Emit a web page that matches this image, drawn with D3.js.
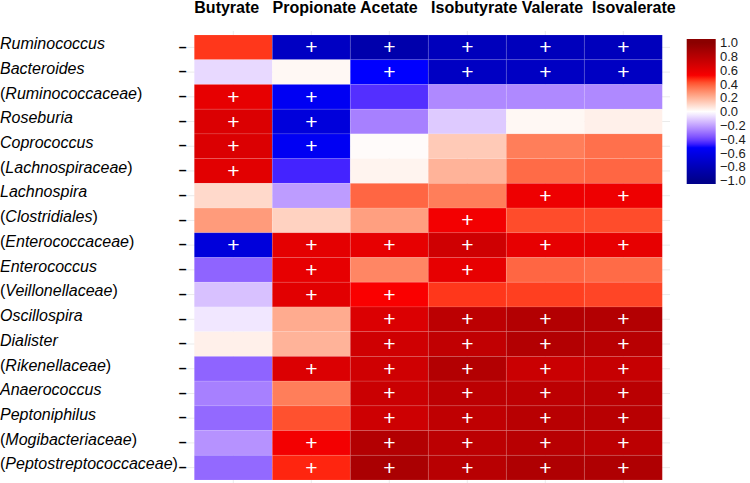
<!DOCTYPE html>
<html><head><meta charset="utf-8">
<script src="https://cdn.jsdelivr.net/npm/d3@7"></script>
<style>body{margin:0;background:#fff}svg{display:block}</style></head>
<body>
<svg id="c" width="750" height="483"></svg>
<script>
const acids = ["Butyrate","Propionate","Acetate","Isobutyrate","Valerate","Isovalerate"];
const taxa = ["Ruminococcus","Bacteroides","(Ruminococcaceae)","Roseburia","Coprococcus","(Lachnospiraceae)","Lachnospira","(Clostridiales)","(Enterococcaceae)","Enterococcus","(Veillonellaceae)","Oscillospira","Dialister","(Rikenellaceae)","Anaerococcus","Peptoniphilus","(Mogibacteriaceae)","(Peptostreptococcaceae)"];
const butyrate    = [0.46,-0.08,0.60,0.65,0.65,0.62,0.10,0.26,-0.65,-0.33,-0.13,-0.05,0.04,-0.33,-0.27,-0.32,-0.23,-0.32];
const propionate  = [-0.75,0.02,-0.55,-0.65,-0.55,-0.46,-0.21,0.12,0.61,0.60,0.62,0.22,0.20,0.65,0.33,0.42,0.55,0.48];
const acetate     = [-0.85,-0.50,-0.44,-0.27,0.01,0.03,0.38,0.25,0.60,0.31,0.52,0.65,0.70,0.70,0.72,0.71,0.82,0.86];
const isobutyrate = [-0.78,-0.75,-0.25,-0.11,0.14,0.20,0.33,0.55,0.70,0.60,0.46,0.78,0.76,0.82,0.78,0.77,0.78,0.80];
const valerate    = [-0.78,-0.75,-0.25,0.02,0.33,0.37,0.57,0.43,0.60,0.38,0.45,0.82,0.82,0.72,0.78,0.80,0.80,0.84];
const isovalerate = [-0.78,-0.75,-0.25,0.04,0.36,0.38,0.57,0.43,0.60,0.37,0.44,0.82,0.80,0.74,0.79,0.80,0.78,0.84];
const sigButyrate    = [0,0,1,1,1,1,0,0,1,0,0,0,0,0,0,0,0,0];
const sigPropionate  = [1,0,1,1,1,0,0,0,1,1,1,0,0,1,0,0,1,1];
const sigAcetate     = [1,1,0,0,0,0,0,0,1,0,1,1,1,1,1,1,1,1];
const sigIsobutyrate = [1,1,0,0,0,0,0,1,1,1,0,1,1,1,1,1,1,1];
const sigValerate    = [1,1,0,0,0,0,1,0,1,0,0,1,1,1,1,1,1,1];
const sigIsovalerate = [1,1,0,0,0,0,1,0,1,0,0,1,1,1,1,1,1,1];
const legendTicks = [1.0,0.8,0.6,0.4,0.2,0.0,-0.2,-0.4,-0.6,-0.8,-1.0];

const values = [butyrate,propionate,acetate,isobutyrate,valerate,isovalerate];
const sigs = [sigButyrate,sigPropionate,sigAcetate,sigIsobutyrate,sigValerate,sigIsovalerate];
const cells = [];
acids.forEach((a,ci)=>taxa.forEach((t,ri)=>cells.push({a,t,v:values[ci][ri],s:sigs[ci][ri]})));

const FONT = "'Liberation Sans', Arial, sans-serif";
const svg = d3.select("#c");
const x = d3.scaleBand().domain(acids).range([194.3,662.3]).padding(0);
const y = d3.scaleBand().domain(taxa).range([35,480]).padding(0);
const color = d3.scaleLinear().domain([-1,-0.5,0,0.5,1])
  .range(["#00008B","#0000FF","#FFFFFF","#FF0000","#8B0000"])
  .interpolate(d3.interpolateLab).clamp(true);

// grid lines (panel) behind tiles
const grid = svg.append("g").attr("stroke","#EBEBEB").attr("stroke-width",1);
grid.selectAll("line.v").data(acids).join("line")
  .attr("x1",d=>x(d)+x.bandwidth()/2).attr("x2",d=>x(d)+x.bandwidth()/2)
  .attr("y1",31).attr("y2",484);
grid.selectAll("line.h").data(taxa).join("line")
  .attr("y1",d=>y(d)+y.bandwidth()/2).attr("y2",d=>y(d)+y.bandwidth()/2)
  .attr("x1",186).attr("x2",670);

// tiles
svg.append("g").selectAll("rect").data(cells).join("rect")
  .attr("x",d=>x(d.a)).attr("y",d=>y(d.t))
  .attr("width",x.bandwidth()).attr("height",y.bandwidth())
  .attr("fill",d=>color(d.v))
  .attr("stroke","rgba(255,255,255,0.12)").attr("stroke-width",0.8);

// plus signs
svg.append("g").selectAll("text").data(cells.filter(d=>d.s)).join("text")
  .attr("x",d=>x(d.a)+x.bandwidth()/2).attr("y",d=>y(d.t)+y.bandwidth()/2+7)
  .attr("text-anchor","middle").attr("fill","#fff")
  .attr("font-family",FONT).attr("font-size",21).attr("font-weight","normal")
  .text("+");

// column header (single spaced line, as in the source figure)
const gaps = [3,1,3,1,2];
const header = acids.map((a,i)=>a + (i<gaps.length ? " ".repeat(gaps[i]) : "")).join("");
svg.append("text").attr("x",x(acids[0])).attr("y",13)
  .attr("font-family",FONT).attr("font-size",16).attr("font-weight","bold")
  .attr("fill","#000").style("white-space","pre").attr("xml:space","preserve").text(header);

// row labels
const rl = svg.append("g").selectAll("text").data(taxa).join("text")
  .attr("x",0).attr("y",d=>y(d)+y.bandwidth()/2+1.8)
  .attr("font-family",FONT).attr("font-size",16).attr("fill","#000");
rl.each(function(d){
  const t = d3.select(this);
  const paren = d.startsWith("(");
  const name = paren ? d.slice(1,-1) : d;
  if(paren) t.append("tspan").text("(");
  t.append("tspan").attr("font-style","italic").text(name);
  if(paren) t.append("tspan").text(")");
});

// dash labels
svg.append("g").selectAll("text").data(taxa).join("text")
  .attr("x",186.5).attr("y",d=>y(d)+y.bandwidth()/2+4.2)
  .attr("text-anchor","end").attr("font-family",FONT).attr("font-size",14).attr("font-weight","bold")
  .attr("fill","#000").text("\u2013");

// legend
const ly = d3.scaleLinear().domain([1,-1]).range([42.7,180.7]);
const defs = svg.append("defs");
const grad = defs.append("linearGradient").attr("id","lg").attr("x1",0).attr("x2",0).attr("y1",0).attr("y2",1);
const stops = d3.range(0,1.0001,0.025);
grad.selectAll("stop").data(stops).join("stop")
  .attr("offset",d=>d).attr("stop-color",d=>color(ly.invert(39+d*(184-39))));
svg.append("rect").attr("x",686.7).attr("y",39).attr("width",29).attr("height",145).attr("fill","url(#lg)");
svg.append("g").selectAll("text").data(legendTicks).join("text")
  .attr("x",720).attr("y",d=>ly(d)+4.5)
  .attr("font-family",FONT).attr("font-size",13).attr("fill","#1a1a1a")
  .text(d=>d.toFixed(1).replace("-","\u2212"));
</script>
</body></html>
